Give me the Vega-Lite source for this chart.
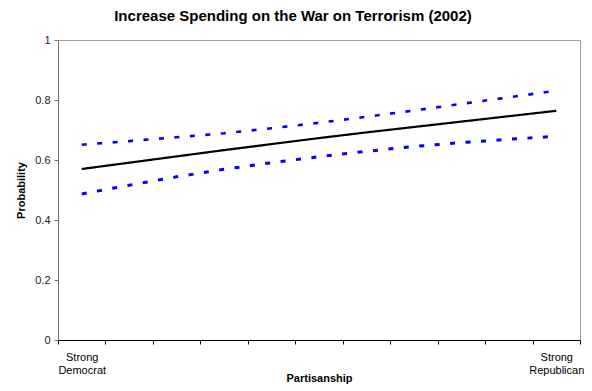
{
  "$schema": "https://vega.github.io/schema/vega-lite/v6.json",
  "autosize": "none",
  "width": 522,
  "height": 300,
  "padding": {"left": 58, "top": 40, "right": 12, "bottom": 51},
  "background": "white",
  "title": {
    "text": "Increase Spending on the War on Terrorism (2002)",
    "font": "Liberation Sans",
    "fontSize": 15,
    "fontWeight": "bold",
    "color": "black",
    "anchor": "middle",
    "dx": -26,
    "offset": 10
  },
  "data": {
    "values": [
      {"x": 1, "series": "estimate", "p": 0.570},
      {"x": 2, "series": "estimate", "p": 0.591},
      {"x": 3, "series": "estimate", "p": 0.612},
      {"x": 4, "series": "estimate", "p": 0.633},
      {"x": 5, "series": "estimate", "p": 0.653},
      {"x": 6, "series": "estimate", "p": 0.673},
      {"x": 7, "series": "estimate", "p": 0.692},
      {"x": 8, "series": "estimate", "p": 0.710},
      {"x": 9, "series": "estimate", "p": 0.728},
      {"x": 10, "series": "estimate", "p": 0.746},
      {"x": 11, "series": "estimate", "p": 0.764},
      {"x": 1, "series": "upper", "p": 0.651},
      {"x": 2, "series": "upper", "p": 0.663},
      {"x": 3, "series": "upper", "p": 0.676},
      {"x": 4, "series": "upper", "p": 0.689},
      {"x": 5, "series": "upper", "p": 0.706},
      {"x": 6, "series": "upper", "p": 0.724},
      {"x": 7, "series": "upper", "p": 0.744},
      {"x": 8, "series": "upper", "p": 0.765},
      {"x": 9, "series": "upper", "p": 0.787},
      {"x": 10, "series": "upper", "p": 0.809},
      {"x": 11, "series": "upper", "p": 0.831},
      {"x": 1, "series": "lower", "p": 0.487},
      {"x": 2, "series": "lower", "p": 0.516},
      {"x": 3, "series": "lower", "p": 0.544},
      {"x": 4, "series": "lower", "p": 0.569},
      {"x": 5, "series": "lower", "p": 0.591},
      {"x": 6, "series": "lower", "p": 0.611},
      {"x": 7, "series": "lower", "p": 0.629},
      {"x": 8, "series": "lower", "p": 0.645},
      {"x": 9, "series": "lower", "p": 0.658},
      {"x": 10, "series": "lower", "p": 0.669},
      {"x": 11, "series": "lower", "p": 0.679}
    ]
  },
  "mark": {"type": "line"},
  "encoding": {
    "x": {
      "field": "x",
      "type": "quantitative",
      "scale": {"domain": [0.5, 11.5], "nice": false, "zero": false},
      "axis": {
        "title": "Partisanship",
        "titleFont": "Liberation Sans",
        "titleFontSize": 11,
        "titleFontWeight": "bold",
        "titleColor": "black",
        "titleBaseline": "middle",
        "titleY": 38,
        "values": [0.5, 1, 1.5, 2.5, 3.5, 4.5, 5.5, 6.5, 7.5, 8.5, 9.5, 10.5, 11, 11.5],
        "labelExpr": "datum.value == 1 ? ['Strong', 'Democrat'] : datum.value == 11 ? ['Strong', 'Republican'] : ''",
        "labelFont": "Liberation Sans",
        "labelFontSize": 11,
        "labelColor": "black",
        "labelLineHeight": 13,
        "labelBaseline": "top",
        "labelPadding": 7,
        "labelOverlap": false,
        "labelFlush": false,
        "labelBound": false,
        "grid": false,
        "domainColor": "black",
        "domainWidth": 1,
        "tickColor": "black",
        "tickSize": 4,
        "tickOpacity": {"condition": {"test": "datum.value % 1 == 0", "value": 0}, "value": 1}
      }
    },
    "y": {
      "field": "p",
      "type": "quantitative",
      "scale": {"domain": [0, 1], "nice": false},
      "axis": {
        "title": "Probability",
        "titleFont": "Liberation Sans",
        "titleFontSize": 11,
        "titleFontWeight": "bold",
        "titleColor": "black",
        "titlePadding": 8,
        "values": [0, 0.2, 0.4, 0.6, 0.8, 1],
        "labelExpr": "datum.value == 0 ? '0' : datum.value == 1 ? '1' : format(datum.value, '.1f')",
        "labelFont": "Liberation Sans",
        "labelFontSize": 11,
        "labelColor": "#222222",
        "labelPadding": 4,
        "grid": false,
        "domainColor": "#707070",
        "domainWidth": 1,
        "tickColor": "#707070",
        "tickSize": 4
      }
    },
    "color": {
      "field": "series",
      "type": "nominal",
      "scale": {"domain": ["estimate", "upper", "lower"], "range": ["#000000", "#0000ff", "#0000ff"]},
      "legend": null
    },
    "strokeDash": {
      "field": "series",
      "type": "nominal",
      "scale": {"domain": ["estimate", "upper", "lower"], "range": [[1, 0], [5, 10.5], [5, 10.5]]},
      "legend": null
    },
    "strokeWidth": {
      "field": "series",
      "type": "nominal",
      "scale": {"domain": ["estimate", "upper", "lower"], "range": [2.2, 3, 3]},
      "legend": null
    }
  },
  "config": {
    "view": {"stroke": "#a0a0a0", "strokeWidth": 1}
  }
}
